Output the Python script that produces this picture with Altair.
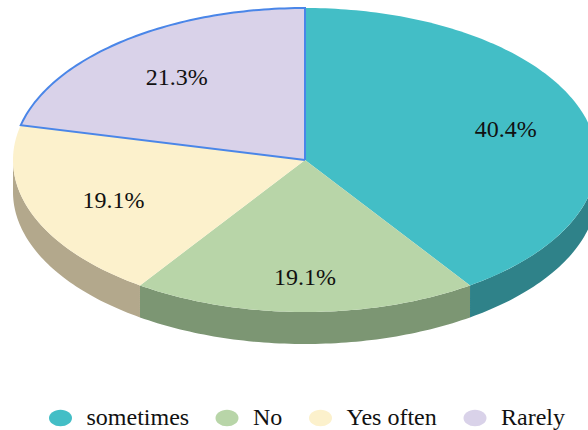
import altair as alt
import numpy as np
import pandas as pd

# Survey answers and their shares, clockwise from twelve o'clock
categories = ["sometimes", "No", "Yes often", "Rarely"]
shares = [40.4, 19.1, 19.1, 21.3]
face_colors = ["#43BEC6", "#B8D5A8", "#FCF1CC", "#D9D2E9"]
wall_colors = ["#2F8289", "#7C9673", "#B3A88C", "#8F8A9E"]

# Where each percentage sits along its slice's mid-angle, as a share of the radius
label_radius = [0.72, 0.76, 0.703, 0.707]

# Thickness of the disc in units of the vertical radius
DEPTH = 32 / 152
RX, RY = 292, 152
CX, CY = 305, 160
W, H = 588, 430

edges = np.cumsum([0] + shares) / sum(shares) * 2 * np.pi


def arc(a0, a1):
    n = max(2, int(np.degrees(a1 - a0)) + 1)
    return np.linspace(a0, a1, n)


face_rows, wall_rows, label_rows = [], [], []
for i, name in enumerate(categories):
    a0, a1 = edges[i], edges[i + 1]
    t = arc(a0, a1)
    xs = [0.0, *np.sin(t), 0.0]
    ys = [0.0, *np.cos(t), 0.0]
    for k, (x, y) in enumerate(zip(xs, ys)):
        face_rows.append({"answer": name, "step": k, "x": x, "y": y})

    # Only the front half of the rim shows as a wall
    lo, hi = max(a0, np.pi / 2), min(a1, 3 * np.pi / 2)
    if lo < hi:
        t = arc(lo, hi)
        wx = np.r_[np.sin(t), np.sin(t[::-1]), np.sin(t[0])]
        wy = np.r_[np.cos(t), np.cos(t[::-1]) - DEPTH, np.cos(t[0])]
        for k, (x, y) in enumerate(zip(wx, wy)):
            wall_rows.append(
                {"answer": name, "shade": wall_colors[i], "step": k, "x": x, "y": y}
            )

    mid = (a0 + a1) / 2
    label_rows.append(
        {
            "x": label_radius[i] * np.sin(mid),
            "y": label_radius[i] * np.cos(mid),
            "text": f"{shares[i]}%",
        }
    )

faces = pd.DataFrame(face_rows)
walls = pd.DataFrame(wall_rows)
labels = pd.DataFrame(label_rows)

x_scale = alt.Scale(domain=[-CX / RX, (W - CX) / RX], range=[0, W], nice=False, zero=False)
y_scale = alt.Scale(domain=[(H - CY) / -RY, CY / RY], range=[H, 0], nice=False, zero=False)
x_enc = alt.X("x:Q", scale=x_scale, axis=None)
y_enc = alt.Y("y:Q", scale=y_scale, axis=None)

wall_layer = (
    alt.Chart(walls)
    .mark_line(strokeWidth=0, clip=True, interpolate="linear")
    .encode(
        x=x_enc,
        y=y_enc,
        order="step:Q",
        detail="answer:N",
        fill=alt.Fill("shade:N", scale=None, legend=None),
    )
)

ellipse = "M-1,0 A1,0.72 0 1,1 1,0 A1,0.72 0 1,1 -1,0 Z"
face_layer = (
    alt.Chart(faces)
    .mark_line(strokeWidth=0, clip=True, interpolate="linear")
    .encode(
        x=x_enc,
        y=y_enc,
        order="step:Q",
        fill=alt.Fill(
            "answer:N",
            scale=alt.Scale(domain=categories, range=face_colors),
            sort=categories,
            legend=alt.Legend(
                title=None,
                orient="none",
                legendX=48.5,
                legendY=406,
                direction="horizontal",
                columns=4,
                columnPadding=25.5,
                symbolType=ellipse,
                symbolSize=529,
                symbolStrokeWidth=0,
                labelFont="Liberation Serif",
                labelFontSize=24,
                labelColor="#111111",
                labelOffset=14,
                padding=0,
            ),
        ),
    )
)

# Blue outline around the selected slice
outline_layer = (
    alt.Chart(faces[faces["answer"] == "Rarely"])
    .mark_line(color="#4A86E8", strokeWidth=2, clip=True, interpolate="linear")
    .encode(
        x=x_enc,
        y=y_enc,
        order="step:Q",
    )
)

label_layer = (
    alt.Chart(labels)
    .mark_text(font="Liberation Serif", fontSize=24, color="#111111", dy=2)
    .encode(x=x_enc, y=y_enc, text="text:N")
)

chart = (
    alt.layer(wall_layer, face_layer, outline_layer, label_layer)
    .resolve_scale(fill="independent")
    .properties(
        width=W,
        height=H,
        padding=0,
        autosize=alt.AutoSizeParams(type="none"),
        background="white",
    )
    .configure_view(stroke=None)
)

chart.save("out.html", embed_options={"renderer": "svg", "actions": False})
